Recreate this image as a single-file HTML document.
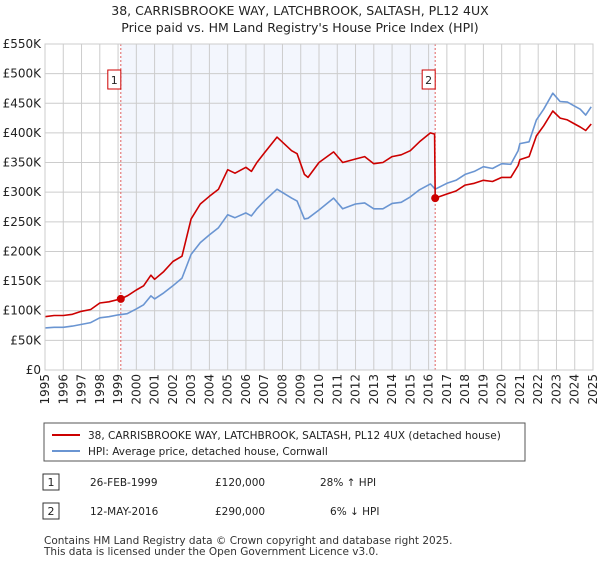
<!DOCTYPE html>
<html><head><meta charset="utf-8"><style>
body{margin:0;background:#fff;font-family:"DejaVu Sans","Liberation Sans",sans-serif;}
svg text{font-family:"DejaVu Sans","Liberation Sans",sans-serif;}
</style></head><body>
<svg id="chart" width="600" height="560" viewBox="0 0 600 560">
<text x="300" y="15" text-anchor="middle" font-size="12.5" fill="#222">38, CARRISBROOKE WAY, LATCHBROOK, SALTASH, PL12 4UX</text>
<text x="300" y="32" text-anchor="middle" font-size="12.5" fill="#222">Price paid vs. HM Land Registry's House Price Index (HPI)</text>
<g id="plot"></g>
<rect x="44" y="423" width="481" height="38" fill="#fff" stroke="#555"/>
<line x1="52" y1="435" x2="80" y2="435" stroke="#cc0000" stroke-width="2"/>
<text x="88" y="439" font-size="10.5" fill="#222">38, CARRISBROOKE WAY, LATCHBROOK, SALTASH, PL12 4UX (detached house)</text>
<line x1="52" y1="451" x2="80" y2="451" stroke="#6a95d2" stroke-width="2"/>
<text x="88" y="455" font-size="10.5" fill="#222">HPI: Average price, detached house, Cornwall</text>
<rect x="43" y="474" width="16" height="16" fill="#fff" stroke="#333"/>
<text x="51" y="486" font-size="11" text-anchor="middle" fill="#222">1</text>
<text x="90" y="486" font-size="10.5" fill="#222">26-FEB-1999</text>
<text x="215" y="486" font-size="10.5" fill="#222">£120,000</text>
<text x="320" y="486" font-size="10.5" fill="#222">28% ↑ HPI</text>
<rect x="43" y="503" width="16" height="16" fill="#fff" stroke="#333"/>
<text x="51" y="515" font-size="11" text-anchor="middle" fill="#222">2</text>
<text x="90" y="515" font-size="10.5" fill="#222">12-MAY-2016</text>
<text x="215" y="515" font-size="10.5" fill="#222">£290,000</text>
<text x="320" y="515" font-size="10.5" fill="#222">&#160;&#160;&#160;6% ↓ HPI</text>
<text x="44" y="544" font-size="10.5" fill="#333">Contains HM Land Registry data © Crown copyright and database right 2025.</text>
<text x="44" y="555" font-size="10.5" fill="#333">This data is licensed under the Open Government Licence v3.0.</text>
</svg>
<script>
const hpiYears=[1995,1995.5,1996,1996.5,1997,1997.5,1998,1998.5,1999,1999.5,2000,2000.4,2000.8,2001,2001.5,2002,2002.5,2003,2003.5,2004,2004.5,2005,2005.4,2006,2006.3,2006.6,2007,2007.7,2008.5,2008.8,2009.2,2009.4,2010,2010.8,2011.3,2012,2012.5,2013,2013.5,2014,2014.5,2015,2015.5,2016.1,2016.36,2017,2017.5,2018,2018.5,2019,2019.5,2020,2020.5,2020.9,2021,2021.5,2021.9,2022.3,2022.8,2023.2,2023.6,2024,2024.3,2024.6,2024.9];
const hpiValues=[71000,72000,72000,74000,77000,80000,88000,90000,93000,95000,103000,110000,125000,120000,130000,142000,155000,195000,215000,228000,240000,262000,257000,265000,260000,272000,285000,305000,290000,285000,255000,256000,270000,290000,272000,280000,282000,272000,272000,281000,283000,292000,304000,314000,305000,315000,320000,330000,335000,343000,340000,348000,347000,370000,382000,385000,422000,440000,467000,453000,452000,445000,440000,430000,444000];
const priceYears=[1995,1995.5,1996,1996.5,1997,1997.5,1998,1998.5,1999.15,1999.5,2000,2000.4,2000.8,2001,2001.5,2002,2002.5,2003,2003.5,2004,2004.5,2005,2005.4,2006,2006.3,2006.6,2007,2007.7,2008.5,2008.8,2009.2,2009.4,2010,2010.8,2011.3,2012,2012.5,2013,2013.5,2014,2014.5,2015,2015.5,2016.1,2016.33,2016.36,2017,2017.5,2018,2018.5,2019,2019.5,2020,2020.5,2020.9,2021,2021.5,2021.9,2022.3,2022.8,2023.2,2023.6,2024,2024.3,2024.6,2024.9];
const priceValues=[90000,92000,92000,94000,99000,102000,113000,115000,120000,125000,135000,142000,160000,153000,166000,183000,192000,255000,280000,293000,305000,338000,332000,342000,335000,350000,366000,393000,370000,365000,330000,325000,350000,368000,350000,356000,360000,348000,350000,360000,363000,370000,385000,400000,398000,290000,297000,302000,312000,315000,320000,318000,325000,325000,345000,355000,360000,395000,412000,437000,425000,422000,415000,410000,404000,415000];
const yTicks=[0,50000,100000,150000,200000,250000,300000,350000,400000,450000,500000,550000];
const yTickLabels=["£0","£50K","£100K","£150K","£200K","£250K","£300K","£350K","£400K","£450K","£500K","£550K"];
const xTicks=[1995,1996,1997,1998,1999,2000,2001,2002,2003,2004,2005,2006,2007,2008,2009,2010,2011,2012,2013,2014,2015,2016,2017,2018,2019,2020,2021,2022,2023,2024,2025];
const saleYears=[1999.15,2016.36];
const saleValues=[120000,290000];
const saleLabels=["1","2"];

const X0=45,X1=593,Y0=370,Y1=44;
const xs=y=>X0+(y-1995)/(2025-1995)*(X1-X0);
const ys=v=>Y0-v/550000*(Y0-Y1);
const NS="http://www.w3.org/2000/svg";
const g=document.getElementById('plot');
function mk(t,a){const e=document.createElementNS(NS,t);for(const k in a)e.setAttribute(k,a[k]);g.appendChild(e);return e;}

let e=mk('rect',{x:X0,y:Y1,width:X1-X0,height:Y0-Y1,fill:'#fff'});


e=mk('rect',{x:xs(saleYears[0]),y:Y1,width:xs(saleYears[1])-xs(saleYears[0]),height:Y0-Y1,fill:'#f3f6fd'});


yTicks.forEach((v,i)=>{
  const l=mk('line',{x1:X0,x2:X1,y1:ys(v),y2:ys(v),stroke:'#ccc','stroke-width':1});
  
  
  const t=mk('text',{x:X0-4,y:ys(v)+4,'text-anchor':'end','font-size':12,fill:'#222'});
  t.textContent=yTickLabels[i];
  
  
});
xTicks.forEach(yr=>{
  const l=mk('line',{x1:xs(yr),x2:xs(yr),y1:Y1,y2:Y0,stroke:'#ccc','stroke-width':1});
  
  
  const t=mk('text',{x:0,y:0,'text-anchor':'end','font-size':12,fill:'#222',transform:`translate(${xs(yr)+4},374) rotate(-90)`});
  t.textContent=yr;
  
  
});
saleYears.forEach((yr,i)=>{
  const l=mk('line',{x1:xs(yr),x2:xs(yr),y1:Y1,y2:Y0,stroke:'#e06060','stroke-width':1,'stroke-dasharray':'2,2'});
  
  
});
function path(xa,va,col,name){
  const d=xa.map((x,i)=>(i?'L':'M')+xs(x).toFixed(1)+','+ys(va[i]).toFixed(1)).join('');
  const p=mk('path',{d:d,fill:'none',stroke:col,'stroke-width':1.6,'stroke-linejoin':'round'});
  
  
}
path(hpiYears,hpiValues,'#6a95d2','hpi-line');
path(priceYears,priceValues,'#cc0000','price-paid-line');
saleYears.forEach((yr,i)=>{
  const c=mk('circle',{cx:xs(yr),cy:ys(saleValues[i]),r:4,fill:'#cc0000'});
  
  
  const bx=xs(yr)-13;
  const r=mk('rect',{x:bx,y:70,width:13,height:19,fill:'#fff',stroke:'#cc0000'});
  
  
  const t=mk('text',{x:bx+6.5,y:84,'text-anchor':'middle','font-size':11,fill:'#222'});
  t.textContent=saleLabels[i];
  
  
});
e=mk('rect',{x:X0,y:Y1,width:X1-X0,height:Y0-Y1,fill:'none',stroke:'#ccc'});


</script>
</body></html>
